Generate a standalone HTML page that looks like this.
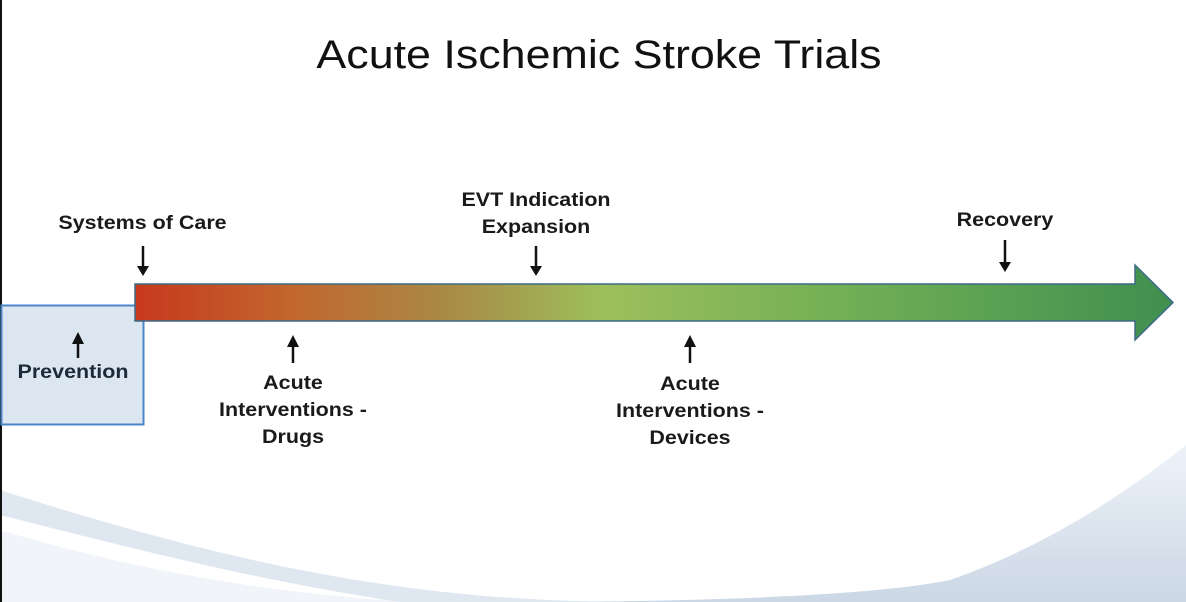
<!DOCTYPE html>
<html><head><meta charset="utf-8"><style>
body{margin:0;width:1186px;height:602px;overflow:hidden;background:#fff;font-family:"Liberation Sans",sans-serif;position:relative}
.t{position:absolute;font-weight:bold;font-size:19px;color:#1a1a1a;text-align:center;line-height:27px;transform:scaleX(1.13)}
</style></head><body>
<svg width="1186" height="602" style="position:absolute;left:0;top:0">
<defs>
<linearGradient id="g" x1="135" y1="0" x2="1173" y2="0" gradientUnits="userSpaceOnUse">
<stop offset="0" stop-color="#c7391c"/>
<stop offset="0.15" stop-color="#c2662e"/>
<stop offset="0.3" stop-color="#a98a45"/>
<stop offset="0.45" stop-color="#9dbf5c"/>
<stop offset="0.7" stop-color="#6fae55"/>
<stop offset="1" stop-color="#3f8f50"/>
</linearGradient>
<linearGradient id="b" x1="0" y1="0" x2="0" y2="1">
<stop offset="0" stop-color="#eef3f9"/><stop offset="1" stop-color="#cbd7e5"/>
</linearGradient>
</defs>
<path d="M0,530 C200,590 400,610 560,602 L0,602Z" fill="#f1f5f9"/>
<path d="M0,490 C250,570 420,600 620,602 L400,602 C250,580 100,540 0,515Z" fill="#dfe7f0"/>
<path d="M560,602 C800,600 900,590 950,580 C1050,545 1130,490 1186,445 L1186,602Z" fill="url(#b)"/>
<rect x="0" y="0" width="2" height="602" fill="#111"/>
<rect x="1.5" y="305.5" width="142" height="119" fill="#dce6f1" stroke="#4a86c8" stroke-width="2"/>
<path d="M135,284 L1135,284 L1135,265 L1173,302.5 L1135,340 L1135,321 L135,321Z" fill="url(#g)" stroke="#3d6a86" stroke-width="1.5"/>
<g stroke="#111" stroke-width="2.5" fill="#111">
<line x1="143" y1="246" x2="143" y2="268"/><path d="M137,266 L149,266 L143,276Z" stroke="none"/>
<line x1="536" y1="246" x2="536" y2="268"/><path d="M530,266 L542,266 L536,276Z" stroke="none"/>
<line x1="1005" y1="240" x2="1005" y2="264"/><path d="M999,262 L1011,262 L1005,272Z" stroke="none"/>
<line x1="78" y1="342" x2="78" y2="358"/><path d="M72,344 L84,344 L78,332Z" stroke="none"/>
<line x1="293" y1="345" x2="293" y2="363"/><path d="M287,347 L299,347 L293,335Z" stroke="none"/>
<line x1="690" y1="345" x2="690" y2="363"/><path d="M684,347 L696,347 L690,335Z" stroke="none"/>
</g>
</svg>
<div style="position:absolute;left:6px;width:1186px;top:33px;text-align:center;font-size:40px;color:#111;transform:scaleX(1.12)">Acute Ischemic Stroke Trials</div>
<div class="t" style="left:40px;width:205px;top:210px">Systems of Care</div>
<div class="t" style="left:430px;width:212px;top:187px">EVT Indication<br>Expansion</div>
<div class="t" style="left:920px;width:170px;top:207px">Recovery</div>
<div class="t" style="left:0;width:146px;top:359px;color:#1f2a38">Prevention</div>
<div class="t" style="left:183px;width:220px;top:370px">Acute<br>Interventions -<br>Drugs</div>
<div class="t" style="left:580px;width:220px;top:371px">Acute<br>Interventions -<br>Devices</div>
</body></html>
